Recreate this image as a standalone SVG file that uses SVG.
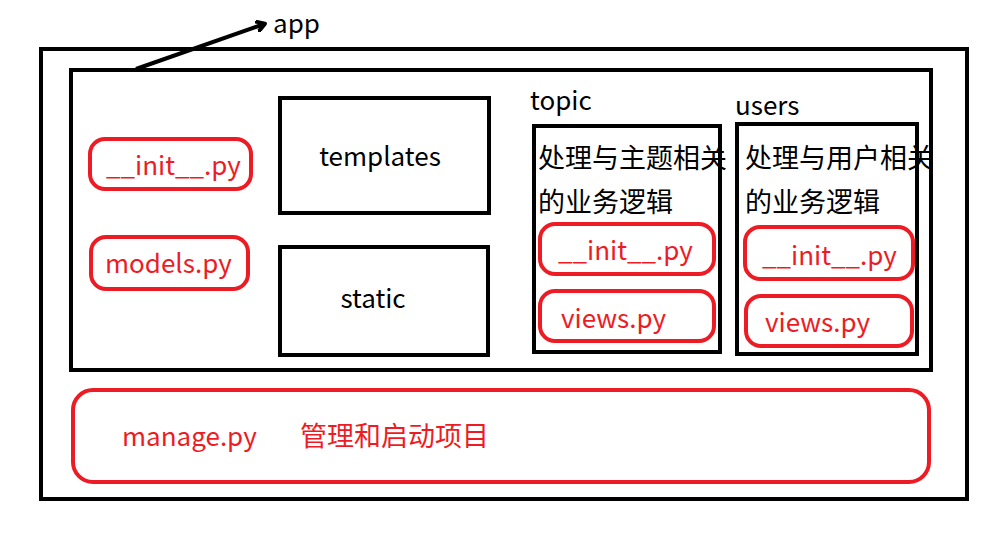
<svg xmlns="http://www.w3.org/2000/svg" width="1008" height="540" viewBox="0 0 1008 540">
<style>
.blk{fill:none;stroke:#000;stroke-width:4}
.red{fill:none;stroke:#ED1C24;stroke-width:4}
.t{font-family:"Noto Sans CJK SC","Open Sans",sans-serif;font-size:26px;fill:#000}
.r{font-family:"Noto Sans CJK SC","Open Sans",sans-serif;font-size:26px;fill:#ED1C24}
.cj{font-size:27px}
</style>
<defs>
<marker id="ah" markerWidth="12" markerHeight="12" refX="8" refY="6" orient="auto" markerUnits="userSpaceOnUse">
<path d="M1,1 L9,6 L1,11" fill="none" stroke="#000" stroke-width="4" stroke-linecap="round" stroke-linejoin="round"/>
</marker>
</defs>
<rect width="1008" height="540" fill="#fff"/>
<g id="outer"><rect class="blk" x="41" y="49" width="926" height="450"/></g>
<g id="app-box"><rect class="blk" x="71" y="70" width="860" height="300"/></g>
<g id="connectors">
<line x1="136" y1="69" x2="264" y2="24" stroke="#000" stroke-width="4" marker-end="url(#ah)"/>
</g>
<g id="app-label"><text class="t" x="273" y="33">app</text></g>
<g id="init"><rect class="red" x="90" y="139" width="161" height="50" rx="15"/><text class="r" x="106" y="175">__init__.py</text></g>
<g id="models"><rect class="red" x="91" y="237" width="157" height="52" rx="15"/><text class="r" x="105" y="273">models.py</text></g>
<g id="templates"><rect class="blk" x="280" y="98" width="209" height="115"/><text class="t" x="380" y="166" text-anchor="middle">templates</text></g>
<g id="static"><rect class="blk" x="280" y="247" width="208" height="108"/><text class="t" x="373" y="308" text-anchor="middle">static</text></g>
<g id="topic">
<text class="t" x="530" y="110">topic</text>
<rect class="blk" x="534" y="126" width="186" height="226"/>
<text class="t cj" x="538" y="168">处理与主题相关</text>
<text class="t cj" x="538" y="212">的业务逻辑</text>
<rect class="red" x="540" y="224" width="174" height="50" rx="15"/><text class="r" x="558" y="260">__init__.py</text>
<rect class="red" x="540" y="291" width="174" height="50" rx="15"/><text class="r" x="561" y="328">views.py</text>
</g>
<g id="users">
<text class="t" x="735" y="115">users</text>
<rect class="blk" x="737" y="124" width="180" height="230"/>
<text class="t cj" x="745" y="168">处理与用户相关</text>
<text class="t cj" x="745" y="212">的业务逻辑</text>
<rect class="red" x="745" y="227" width="168" height="52" rx="15"/><text class="r" x="762" y="265">__init__.py</text>
<rect class="red" x="746" y="296" width="166" height="50" rx="15"/><text class="r" x="765" y="332">views.py</text>
</g>
<g id="manage"><rect class="red" x="73" y="390" width="856" height="92" rx="20"/><text class="r" x="122" y="446">manage.py</text><text class="r cj" x="300" y="446">管理和启动项目</text></g>
</svg>
